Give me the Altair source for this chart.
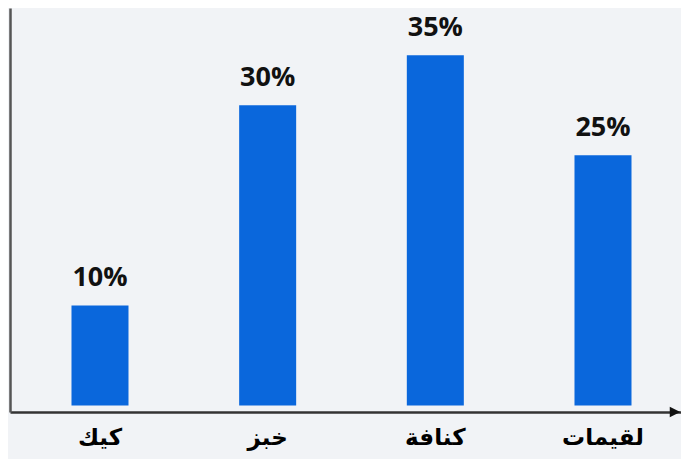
import altair as alt
import pandas as pd

categories = ["كيك", "خبز", "كنافة", "لقيمات"]
values = [10, 30, 35, 25]

df = pd.DataFrame({"cat": categories, "value": values})
df["label"] = [f"{v}%" for v in values]

W, H = 671, 404

x = alt.X("cat:N", sort=categories,
          scale=alt.Scale(paddingInner=0.66, paddingOuter=0.331, align=0.554),
          axis=alt.Axis(title=None, ticks=False, labelAngle=0, labelFont="DejaVu Sans",
                        labelFontWeight="bold", labelFontSize=23, labelColor="#000",
                        labelPadding=14, domainColor="#333", domainWidth=2.5))
y = alt.Y("value:Q", scale=alt.Scale(domain=[-0.65, 39.71], nice=False, zero=False),
          axis=alt.Axis(title=None, labels=False, ticks=False, grid=False,
                        domainColor="#555", domainWidth=2.5))

base = alt.Chart(df)
bars = base.mark_bar(color="#0a67dc").encode(x=x, y=y, y2=alt.value(H))
text = base.mark_text(font="Open Sans", fontWeight="bold", fontSize=27, color="#111",
                      baseline="alphabetic", dy=-19).encode(x=x, y=y, text="label:N")
arrow = alt.Chart(pd.DataFrame({"a": [0]})).mark_point(
    shape="M-1,-1L1,0L-1,1Z", filled=True, opacity=1, color="#111", size=110
).encode(x=alt.value(W - 6), y=alt.value(H))

chart = alt.layer(bars, text, arrow).properties(
    width=W, height=H,
    autosize=alt.AutoSizeParams(type="none"),
    padding={"left": 2, "top": 0, "right": 0, "bottom": 47},
    background="#f1f3f6",
).configure_view(stroke=None)

chart.save("out.html", embed_options={"renderer": "svg", "actions": False})
